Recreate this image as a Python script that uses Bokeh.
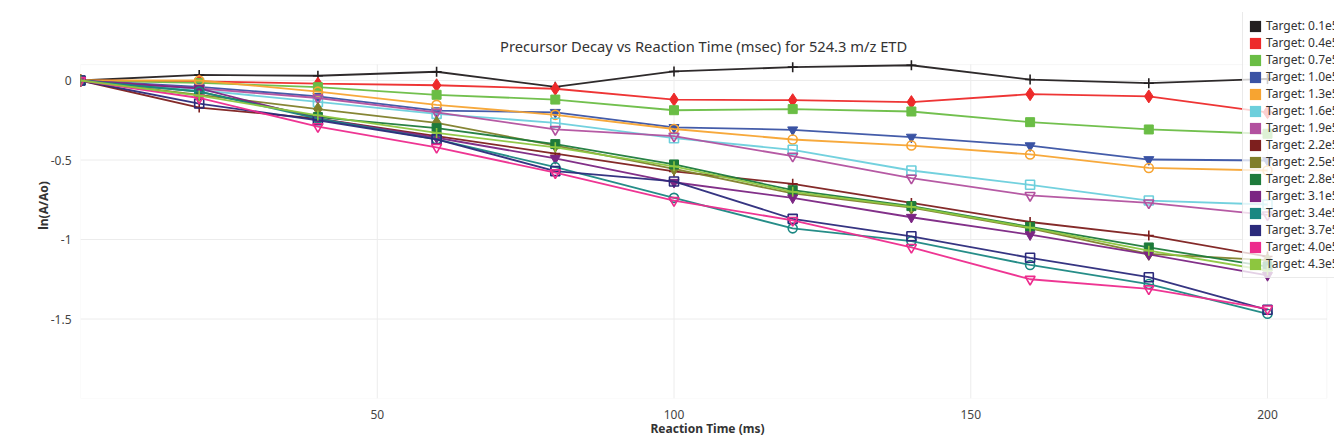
from bokeh.plotting import figure
from bokeh.models import (Range1d, FixedTicker, Legend, LegendItem, ColumnDataSource,
                          BoxAnnotation, Label)
from bokeh.embed import file_html
from bokeh.resources import INLINE

# ---------------- data ----------------
time_ms = [0, 20, 40, 60, 80, 100, 120, 140, 160, 180, 200]

labels = ["Target: 0.1e5", "Target: 0.4e5", "Target: 0.7e5", "Target: 1.0e5", "Target: 1.3e5",
          "Target: 1.6e5", "Target: 1.9e5", "Target: 2.2e5", "Target: 2.5e5", "Target: 2.8e5",
          "Target: 3.1e5", "Target: 3.4e5", "Target: 3.7e5", "Target: 4.0e5", "Target: 4.3e5"]

t_0_1 = [0, 0.035, 0.030, 0.055, -0.040, 0.057, 0.084, 0.096, 0.006, -0.017, 0.010]
t_0_4 = [0, -0.005, -0.020, -0.030, -0.052, -0.120, -0.124, -0.136, -0.086, -0.100, -0.200]
t_0_7 = [0, -0.015, -0.042, -0.090, -0.120, -0.187, -0.180, -0.195, -0.262, -0.308, -0.335]
t_1_0 = [0, -0.040, -0.100, -0.190, -0.200, -0.295, -0.310, -0.356, -0.410, -0.497, -0.503]
t_1_3 = [0, 0.000, -0.070, -0.153, -0.216, -0.305, -0.371, -0.409, -0.465, -0.550, -0.566]
t_1_6 = [0, -0.060, -0.135, -0.210, -0.266, -0.363, -0.436, -0.566, -0.656, -0.755, -0.780]
t_1_9 = [0, -0.050, -0.110, -0.200, -0.308, -0.350, -0.476, -0.614, -0.723, -0.770, -0.845]
t_2_2 = [0, -0.170, -0.240, -0.350, -0.460, -0.572, -0.650, -0.770, -0.890, -0.975, -1.107]
t_2_5 = [0, -0.090, -0.180, -0.266, -0.410, -0.556, -0.710, -0.800, -0.930, -1.090, -1.130]
t_2_8 = [0, -0.070, -0.230, -0.300, -0.400, -0.528, -0.690, -0.790, -0.920, -1.050, -1.170]
t_3_1 = [0, -0.050, -0.240, -0.360, -0.490, -0.640, -0.738, -0.860, -0.970, -1.094, -1.226]
t_3_4 = [0, -0.070, -0.240, -0.370, -0.545, -0.738, -0.930, -1.010, -1.160, -1.280, -1.467]
t_3_7 = [0, -0.145, -0.250, -0.370, -0.570, -0.635, -0.870, -0.980, -1.115, -1.237, -1.442]
t_4_0 = [0, -0.110, -0.290, -0.420, -0.580, -0.755, -0.880, -1.050, -1.250, -1.310, -1.436]
t_4_3 = [0, -0.095, -0.220, -0.330, -0.420, -0.540, -0.700, -0.795, -0.925, -1.070, -1.195]

series = [t_0_1, t_0_4, t_0_7, t_1_0, t_1_3, t_1_6, t_1_9, t_2_2,
          t_2_5, t_2_8, t_3_1, t_3_4, t_3_7, t_4_0, t_4_3]

colors = ["#231f20", "#ed2a2a", "#6abd45", "#3a53a4", "#f7a431", "#6ccfdc", "#b2519f", "#7d1f1e",
          "#807f2a", "#1e7b3b", "#7b2583", "#1a8782", "#2b2a7b", "#ed2b8d", "#8dc63f"]

# marker cycle: (marker, filled)
marker_cycle = [("cross", True), ("diamond", True), ("square", True), ("inverted_triangle", True),
                ("circle", False), ("square", False), ("inverted_triangle", False)]
marker_sizes = {"cross": 10, "diamond": 13, "square": 9, "inverted_triangle": 10, "circle": 9}

x_ticks = [50, 100, 150, 200]
y_ticks = [0, -0.5, -1, -1.5]
title_text = "Precursor Decay vs Reaction Time (msec) for 524.3 m/z ETD"

# plot box (data extents of the inner chart area)
X_LO, X_HI = 0, 210
Y_LO, Y_HI = -2.0, 0.1
PX_PER_Y = 159.0          # vertical scale, px per unit
PX_PER_X = 5.935          # horizontal scale, px per unit

FONT = "Noto Sans"
W, H = 1334, 448
LEFT, BOTTOM_PX, TOP_PX = 80, 398, 12   # frame edges on the canvas

# frame extends above the inner box so the legend/title can sit there unclipped
y_end = Y_LO + (BOTTOM_PX - TOP_PX) / PX_PER_Y
x_end = X_LO + (W - LEFT) / PX_PER_X

p = figure(width=W, height=H, output_backend="svg", toolbar_location=None,
           x_range=Range1d(X_LO, x_end), y_range=Range1d(Y_LO, y_end),
           min_border_left=LEFT, min_border_right=0, min_border_top=TOP_PX,
           min_border_bottom=H - BOTTOM_PX)

p.outline_line_color = None
p.background_fill_color = "white"
p.border_fill_color = "white"
p.xgrid.visible = False
p.ygrid.visible = False

GRID = "#ececec"
# grid lines limited to the inner box
p.segment(x0=x_ticks, y0=[Y_LO] * len(x_ticks), x1=x_ticks, y1=[Y_HI] * len(x_ticks),
          line_color=GRID, line_width=1, level="underlay")
p.segment(x0=[X_LO] * len(y_ticks), y0=y_ticks, x1=[X_HI] * len(y_ticks), y1=y_ticks,
          line_color=GRID, line_width=1, level="underlay")
p.add_layout(BoxAnnotation(left=X_LO, right=X_HI, bottom=Y_LO, top=Y_HI,
                           fill_color=None, fill_alpha=0, line_color="#e2e2e2", line_width=1,
                           level="underlay"))

# title (inside the extended frame, centred over the inner box)
p.add_layout(Label(x=(X_LO + X_HI) / 2, y=Y_LO + (BOTTOM_PX - 45) / PX_PER_Y,
                   text=title_text, text_align="center", text_baseline="middle",
                   text_font=FONT, text_font_size="14.7px", text_color="#333333"))

p.xaxis.ticker = FixedTicker(ticks=x_ticks)
p.yaxis.ticker = FixedTicker(ticks=y_ticks)
p.xaxis.bounds = (X_LO, X_HI)
p.yaxis.bounds = (Y_LO, Y_HI)
p.yaxis.major_label_overrides = {0: "0", -0.5: "-0.5", -1: "-1", -1.5: "-1.5"}
for ax in (p.xaxis[0], p.yaxis[0]):
    ax.axis_line_color = None
    ax.major_tick_line_color = None
    ax.minor_tick_line_color = None
    ax.major_label_text_font = FONT
    ax.major_label_text_font_size = "12px"
    ax.major_label_text_color = "#444444"
    ax.axis_label_text_font = FONT
    ax.axis_label_text_font_size = "12px"
    ax.axis_label_text_font_style = "bold"
    ax.axis_label_text_color = "#333333"

p.xaxis.axis_label = "Reaction Time (ms)"
p.yaxis.axis_label = "ln(A/Ao)"
p.xaxis.major_label_standoff = 5
p.xaxis.axis_label_standoff = -2
p.yaxis.major_label_standoff = 3
p.yaxis.axis_label_standoff = -4

items = []
for i, (lab, ys, col) in enumerate(zip(labels, series, colors)):
    src = ColumnDataSource(dict(x=time_ms, y=ys))
    p.line("x", "y", source=src, line_color=col, line_width=1.8, line_alpha=0.95)
    mk, filled = marker_cycle[i % len(marker_cycle)]
    sz = marker_sizes[mk]
    if mk == "cross":
        p.scatter("x", "y", source=src, marker="cross", size=sz, line_color=col, line_width=1.6)
    elif filled:
        p.scatter("x", "y", source=src, marker=mk, size=sz, fill_color=col, line_color=col, line_width=1)
    else:
        p.scatter("x", "y", source=src, marker=mk, size=sz, fill_color=None, line_color=col, line_width=1.6)
    # zero-size quad at the series' first point: only used for the legend's colour square
    swatch = p.quad(left=time_ms[:1], right=time_ms[:1], top=ys[:1], bottom=ys[:1],
                    fill_color=col, line_color=None)
    items.append(LegendItem(label=lab, renderers=[swatch]))

LEG_LEFT, LEG_TOP = 1242, 13
leg_h = 15 * 17 + 10
legend = Legend(items=items, location=(LEG_LEFT - LEFT, BOTTOM_PX - (LEG_TOP + leg_h)),
                orientation="vertical",
                glyph_width=14, glyph_height=14, label_height=14, spacing=0,
                padding=5, margin=0, label_standoff=4,
                label_text_font=FONT, label_text_font_size="12px", label_text_color="#333333",
                background_fill_color="white", background_fill_alpha=0.78,
                border_line_color="#d6d6d6", border_line_width=1)
p.add_layout(legend, "center")

open("out.html", "w").write(file_html(p, INLINE))
